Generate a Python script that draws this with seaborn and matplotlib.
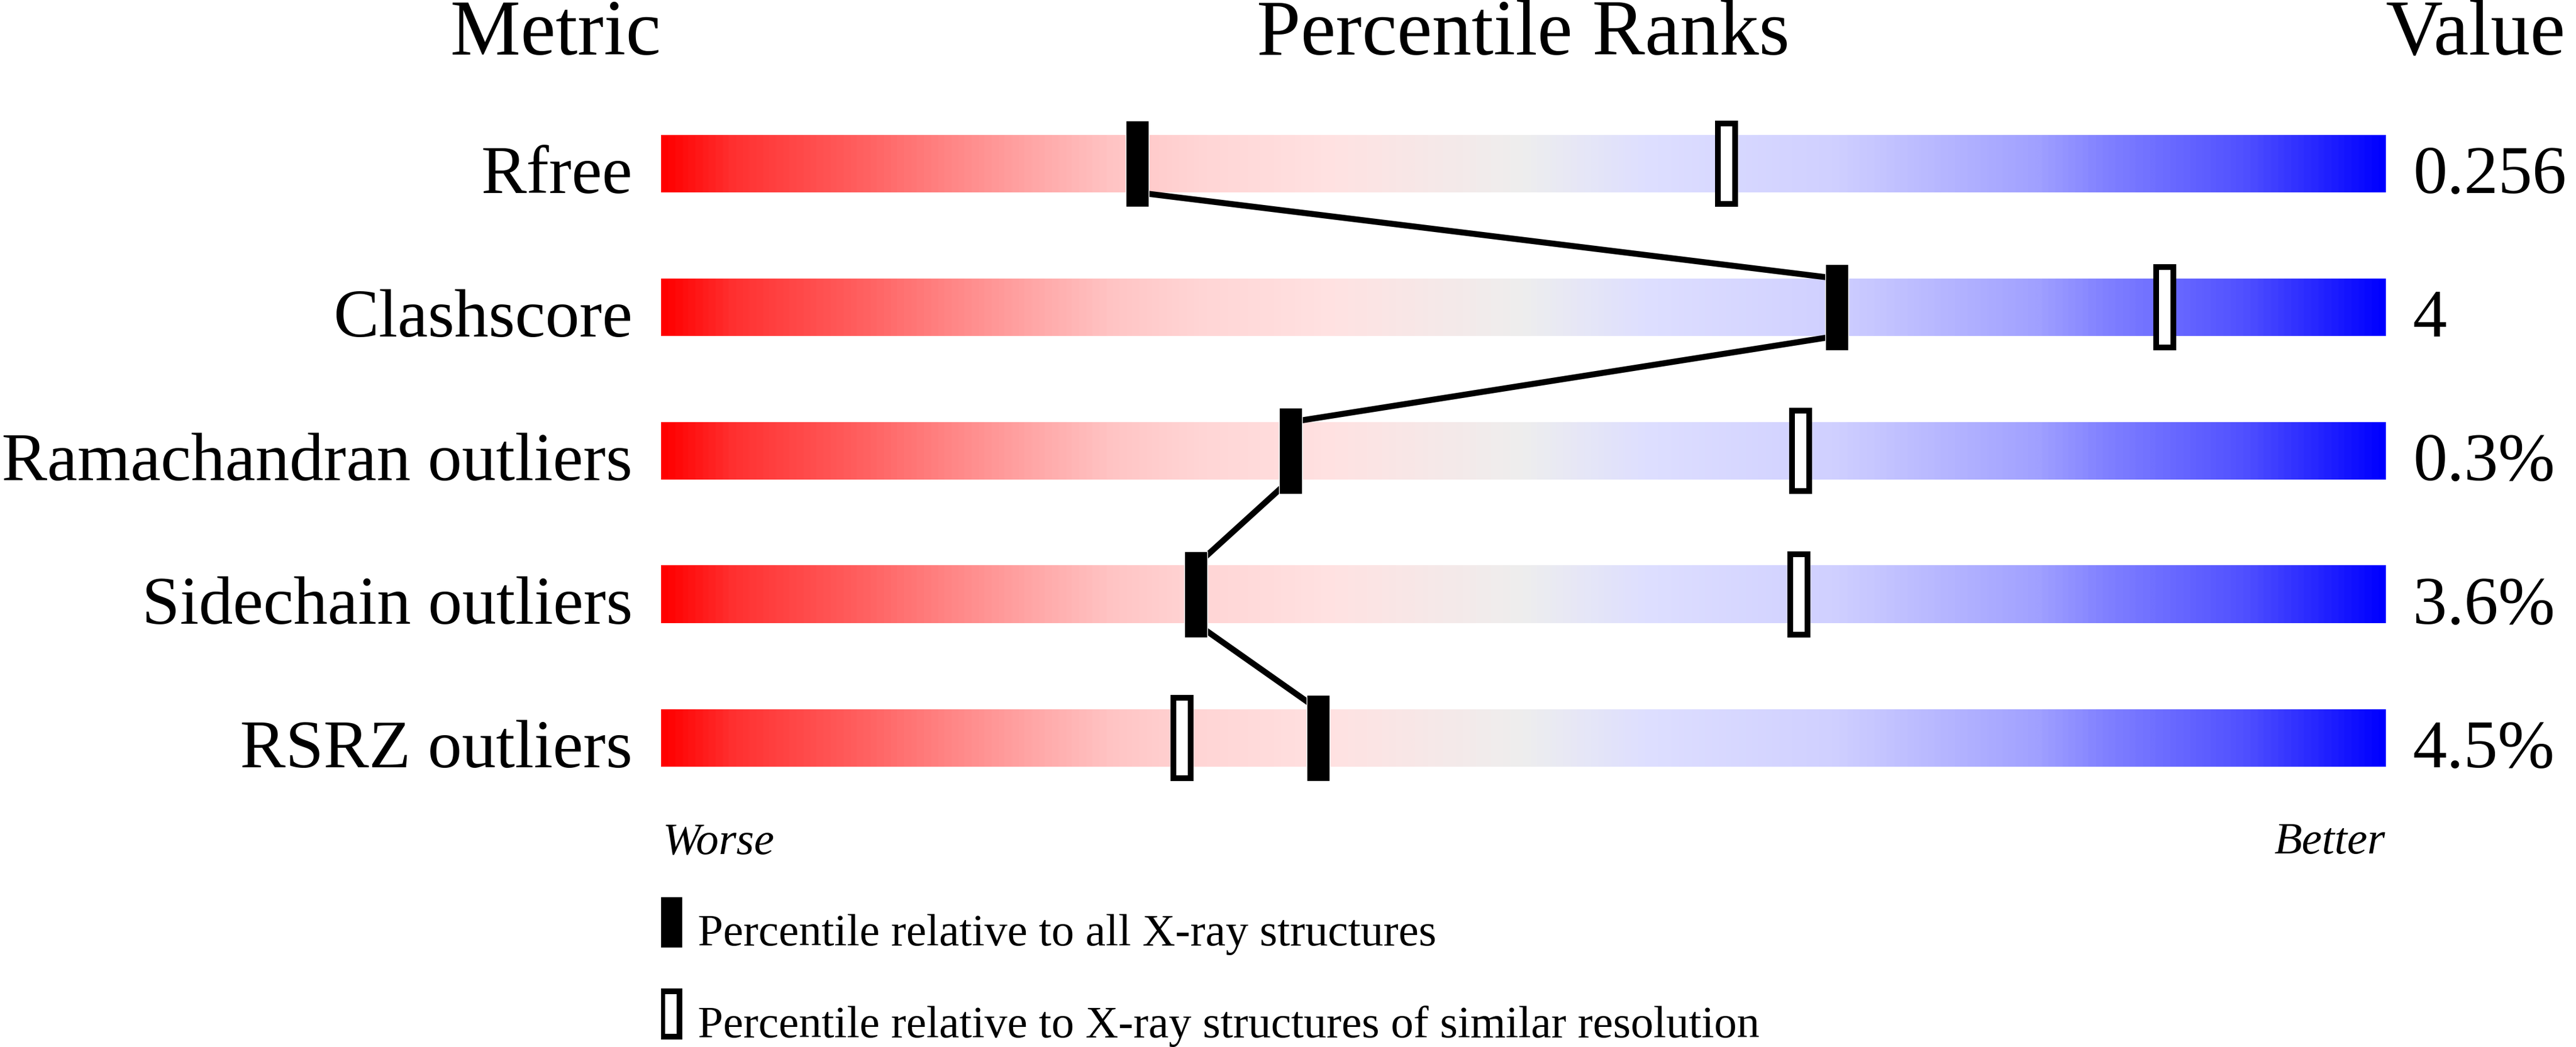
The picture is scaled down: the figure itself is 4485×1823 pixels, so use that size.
import numpy as np
import matplotlib
matplotlib.use("Agg")
import matplotlib.pyplot as plt
import seaborn as sns
from matplotlib import font_manager
from matplotlib.colors import LinearSegmentedColormap

# ===== data =====
metrics = ["Rfree", "Clashscore", "Ramachandran outliers", "Sidechain outliers", "RSRZ outliers"]
values = ["0.256", "4", "0.3%", "3.6%", "4.5%"]
pct_all = [27.6, 68.2, 36.5, 31.0, 38.1]       # filled markers
pct_similar = [61.8, 87.2, 66.1, 66.0, 30.2]   # open markers
legend_labels = ["Percentile relative to all X-ray structures",
                 "Percentile relative to X-ray structures of similar resolution"]

# make sure the serif fonts are registered
for f in font_manager.findSystemFonts():
    name = f.replace(" ", "").lower()
    if "liberationserif" in name or "dejavuserif" in name:
        try:
            font_manager.fontManager.addfont(f)
        except Exception:
            pass

# ===== style =====
sns.set_style("white")
plt.rcParams['font.family'] = 'serif'
plt.rcParams['font.serif'] = ['Liberation Serif', 'Times New Roman', 'DejaVu Serif']
plt.rcParams['text.color'] = 'black'

slider = LinearSegmentedColormap.from_list("slider", [
    (0.00, "#FF0000"), (0.04, "#FF3030"), (0.115, "#FF6060"), (0.17, "#FF8888"),
    (0.22, "#FFAAAA"), (0.26, "#FFC4C4"), (0.31, "#FFD5D5"), (0.39, "#FFE2E2"),
    (0.50, "#EEEEEE"), (0.57, "#DEDFFF"), (0.68, "#D0D0FF"), (0.80, "#A0A0FF"),
    (0.84, "#8080FF"), (0.92, "#5050FF"), (1.00, "#0000FF")])

W, H = 4485, 1824
fig = plt.figure(figsize=(W / 100, H / 100), dpi=100)
# axes spans the slider area horizontally (0..100 percentile), rows vertically
ax = fig.add_axes([1151 / W, 0, 3002 / W, 1])

rows = np.arange(len(metrics))
bar_h = 0.4
mark_h = 0.6
mark_w = 1.332
bx, by = 0.333, 0.04   # open marker border (x in pct, y in rows)

grad = np.linspace(0, 1, 1200).reshape(1, -1)
for r in rows:
    ax.imshow(grad, cmap=slider, aspect='auto', interpolation='bilinear',
              extent=(0, 100, r + bar_h / 2, r - bar_h / 2), zorder=1)

# connecting line through the "all structures" percentiles
line_x, line_y = [], []
for r, p in zip(rows, pct_all):
    line_x += [p, p]
    line_y += [r - bar_h / 2, r + bar_h / 2]
sns.lineplot(x=line_x[1:-1], y=line_y[1:-1], sort=False, estimator=None,
             color='black', linewidth=7.5, ax=ax, zorder=2)

pa = np.array(pct_all)
ps = np.array(pct_similar)
ax.barh(rows, mark_w, left=pa - mark_w / 2, height=mark_h, color='black', zorder=3)
ax.barh(rows, mark_w - bx, left=ps - (mark_w - bx) / 2, height=mark_h - by,
        facecolor='white', edgecolor='black', linewidth=7.2, zorder=3)

# ===== text =====
ax.text(0, -0.764, "Metric", ha='right', va='baseline', fontsize=99)
ax.text(50, -0.764, "Percentile Ranks", ha='center', va='baseline', fontsize=99)
ax.text(100, -0.764, "Value", ha='left', va='baseline', fontsize=99)

for r, m, v in zip(rows, metrics, values):
    ax.text(-1.65, r + bar_h / 2, m, ha='right', va='baseline', fontsize=85.5)
    ax.text(101.6, r + bar_h / 2, v, ha='left', va='baseline', fontsize=85.5)

ax.text(0.1, 4.8, "Worse", ha='left', va='baseline', fontsize=57, style='italic')
ax.text(100, 4.8, "Better", ha='right', va='baseline', fontsize=57, style='italic')

# ===== legend =====
leg_y = [5.282, 5.922]
leg_h = 0.356
ax.barh(leg_y[0], mark_w, left=0.57 - mark_w / 2, height=leg_h, color='black')
ax.barh(leg_y[1], mark_w - bx, left=0.57 - (mark_w - bx) / 2, height=leg_h - by,
        facecolor='white', edgecolor='black', linewidth=7.2)
for y, lab in zip(leg_y, legend_labels):
    ax.text(2.13, y + 0.158, lab, ha='left', va='baseline', fontsize=57)

ax.set_xlim(0, 100)
ax.set_ylim((H - 286) / 250, -286 / 250)
ax.axis('off')

fig.savefig("out.png", dpi=100, facecolor='white')
